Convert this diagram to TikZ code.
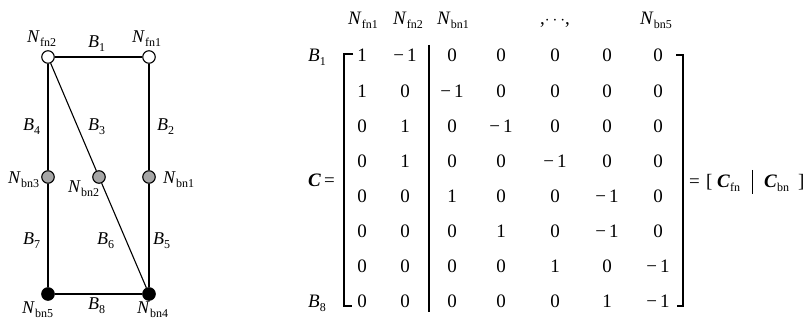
\documentclass[tikz,border=0pt]{standalone}
\usepackage{fontspec}
\setmainfont{Liberation Serif}
\newcommand\gsub[2]{\textit{#1}\raisebox{-4pt}{\fontsize{12}{12}\selectfont #2}}
\newcommand\msub[2]{\textit{#1}\raisebox{-4pt}{\fontsize{12}{12}\selectfont #2}}
\newcommand\bsub[2]{\textbf{\textit{#1}}\raisebox{-4pt}{\fontsize{12}{12}\selectfont #2}}
\begin{document}
\begin{tikzpicture}[x=1pt,y=-1pt]
\tikzset{
  lbl/.style={inner sep=0pt, anchor=base west, font=\fontsize{18}{18}\selectfont},
  mlbl/.style={inner sep=0pt, anchor=base west, font=\fontsize{19}{19}\selectfont},
  ent/.style={inner sep=0pt, anchor=base, font=\fontsize{19}{19}\selectfont},
  vtx/.style={circle, draw, line width=1.1pt, minimum size=12.5pt, inner sep=0pt},
  fvtx/.style={vtx, fill=white},
  gvtx/.style={vtx, fill=black!35},
  kvtx/.style={vtx, fill=black},
  edge/.style={line width=1.1pt},
  brk/.style={line width=1.2pt},
}
\useasboundingbox (0,0) rectangle (807,320);
% ---------------- graph ----------------
\node[fvtx] (fn2) at (48,57) {};
\node[fvtx] (fn1) at (149,57) {};
\node[gvtx] (bn3) at (48,177) {};
\node[gvtx] (bn2) at (99,177) {};
\node[gvtx] (bn1) at (149,177) {};
\node[kvtx] (bn5) at (48,294) {};
\node[kvtx] (bn4) at (149,294) {};
\draw[edge] (fn2) -- (fn1);
\draw[edge] (fn1) -- (bn1);
\draw[edge] (bn1) -- (bn4);
\draw[edge] (fn2) -- (bn3);
\draw[edge] (bn3) -- (bn5);
\draw[edge] (bn5) -- (bn4);
\draw[edge] (fn2) -- (bn2);
\draw[edge] (bn2) -- (bn4);
\node[lbl] (lfn2) at (27,43) {\gsub{N}{fn2}};
\node[lbl] (lfn1) at (132,43) {\gsub{N}{fn1}};
\node[lbl] (lb1) at (88,48) {\gsub{B}{1}};
\node[lbl] (lb4) at (23,131) {\gsub{B}{4}};
\node[lbl] (lb3) at (88,131) {\gsub{B}{3}};
\node[lbl] (lb2) at (157,131) {\gsub{B}{2}};
\node[lbl] (lbn3) at (8,184) {\gsub{N}{bn3}};
\node[lbl] (lbn2) at (68,193) {\gsub{N}{bn2}};
\node[lbl] (lbn1) at (163,184) {\gsub{N}{bn1}};
\node[lbl] (lb7) at (23,245) {\gsub{B}{7}};
\node[lbl] (lb6) at (97,245) {\gsub{B}{6}};
\node[lbl] (lb5) at (153,245) {\gsub{B}{5}};
\node[lbl] (lb8) at (88,310) {\gsub{B}{8}};
\node[lbl] (lbn5) at (22,314) {\gsub{N}{bn5}};
\node[lbl] (lbn4) at (137,314) {\gsub{N}{bn4}};
% ---------------- matrix ----------------
\node[mlbl] (hfn1) at (348,25) {\msub{N}{fn1}};
\node[mlbl] (hfn2) at (393,25) {\msub{N}{fn2}};
\node[mlbl] (hbn1) at (437,25) {\msub{N}{bn1}};
\node[mlbl] (hdots) at (540,25) {,$\cdots$,};
\node[mlbl] (hbn5) at (640,25) {\msub{N}{bn5}};
\node[mlbl] (mb1) at (308,62) {\msub{B}{1}};
\node[mlbl] (mb8) at (308,308) {\msub{B}{8}};
\node[mlbl] (ceq) at (308,187) {\textbf{\textit{C}}\,=};
\def\colx{{362,405,452,501,555,607,658}}
\foreach \rowdata [count=\r] in {
  {1,−\,1,0,0,0,0,0},
  {1,0,−\,1,0,0,0,0},
  {0,1,0,−\,1,0,0,0},
  {0,1,0,0,−\,1,0,0},
  {0,0,1,0,0,−\,1,0},
  {0,0,0,1,0,−\,1,0},
  {0,0,0,0,1,0,−\,1},
  {0,0,0,0,0,1,−\,1}}{
  \foreach \e [count=\c] in \rowdata {
    \pgfmathsetmacro\cx{\colx[\c-1]}
    \pgfmathsetmacro\cy{62+35.14*(\r-1)}
    \node[ent] (e\r-\c) at (\cx,\cy) {\e};
  }
}
\draw[brk] (353,54) -- (344,54) -- (344,306) -- (352,306);
\draw[brk] (676,55) -- (683,55) -- (683,306) -- (677,306);
\draw[brk] (429,45) -- (429,312);
% ---------------- right-hand side ----------------
\node[mlbl] (req) at (689,188) {=};
\node[mlbl] (rlb) at (706,188) {[};
\node[mlbl] (rcfn) at (717,188) {\bsub{C}{fn}};
\draw[line width=1pt] (752,170) -- (752,194);
\node[mlbl] (rcbn) at (764,188) {\bsub{C}{bn}};
\node[mlbl] (rrb) at (798,188) {]};
\end{tikzpicture}
\end{document}
